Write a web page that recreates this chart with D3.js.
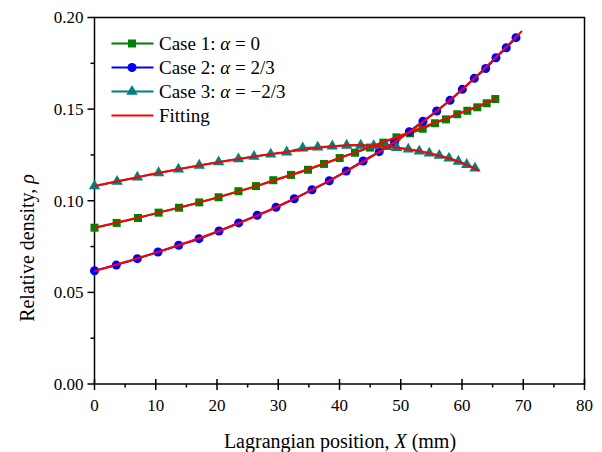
<!DOCTYPE html>
<html><head><meta charset="utf-8">
<script src="https://cdn.jsdelivr.net/npm/d3@7"></script>
<style>body{margin:0;background:#fff}svg{display:block}text{font-family:"Liberation Serif","Times New Roman",serif}</style>
</head><body><svg id="c" width="602" height="452"></svg>
<script>
// ---- data ----
const xTicks = [0,10,20,30,40,50,60,70,80];
const yTicks = [0.00,0.05,0.10,0.15,0.20];

const case1X = [0,3.62,7.10,10.47,13.80,17.10,20.26,23.5,26.37,29.19,32.08,34.86,37.47,40.03,42.53,44.98,47.15,49.3,51.51,53.58,55.59,57.39,59.23,60.87,62.50,64.03,65.44];
const case1Y = [0.0853,0.0879,0.0906,0.0935,0.0962,0.0991,0.1019,0.1052,0.1080,0.1112,0.1141,0.1169,0.1201,0.1233,0.1262,0.1290,0.1317,0.1346,0.1368,0.1393,0.1423,0.1444,0.1472,0.1491,0.1510,0.1532,0.1555];

const case2X = [0,3.56,6.99,10.37,13.75,17.06,20.33,23.54,26.57,29.63,32.62,35.51,38.33,41.11,43.87,46.48,48.98,51.40,53.63,55.87,58.04,60.05,62.01,63.87,65.55,67.23,68.82];
const case2Y = [0.0618,0.0649,0.0684,0.0720,0.0757,0.0793,0.0835,0.0879,0.0921,0.0964,0.1011,0.1060,0.1109,0.1162,0.1217,0.1268,0.1319,0.1377,0.1434,0.1490,0.1548,0.1608,0.1668,0.1722,0.1780,0.1835,0.1890];

const case3X = [0,3.69,7.0,10.47,13.7,17.1,20.27,23.5,26.04,28.77,31.38,33.99,36.44,38.82,41.17,43.46,45.58,47.71,49.34,51.23,53.03,54.66,56.29,57.88,59.40,60.77,62.12];
const case3Y = [0.1080,0.1105,0.1128,0.1152,0.1172,0.1193,0.1211,0.1228,0.1241,0.1254,0.1265,0.1287,0.1292,0.1298,0.1302,0.1302,0.1300,0.1295,0.1290,0.1281,0.1270,0.1259,0.1247,0.1232,0.1215,0.1197,0.1177];

const fit1X = [0,10,20,30,40,50,60,65.8];
const fit1Y = [0.0852,0.0931,0.1017,0.1117,0.1233,0.1356,0.1482,0.1560];
const fit2X = [0,10,20,30,40,50,60,69.8];
const fit2Y = [0.0616,0.0717,0.0831,0.0970,0.1140,0.1343,0.1606,0.1926];
const fit3X = [0,10,20,30,40,45,50,55,60,62.8];
const fit3Y = [0.1080,0.1149,0.1209,0.1260,0.1300,0.1301,0.1287,0.1257,0.1207,0.1164];

const seriesNames = ["Case 1: ", "Case 2: ", "Case 3: "];
const alphaVals = ["0","2/3","\u22122/3"];
const colors = ["#008000","#0000ff","#008080"];
const fitColor = "#ff0000";

// ---- layout ----
const L=94.5, R=584.5, T=17.5, B=384;
const svg = d3.select("#c");
const x = d3.scaleLinear().domain([0,80]).range([L,R]);
const y = d3.scaleLinear().domain([0,0.20]).range([B,T]);

const series = [
  {xs:case1X, ys:case1Y, fx:fit1X, fy:fit1Y, sym:d3.symbolSquare, size:64},
  {xs:case2X, ys:case2Y, fx:fit2X, fy:fit2Y, sym:d3.symbolCircle, size:64},
  {xs:case3X, ys:case3Y, fx:fit3X, fy:fit3Y, sym:d3.symbolTriangle, size:56},
];

// frame
svg.append("rect").attr("x",L).attr("y",T).attr("width",R-L).attr("height",B-T)
  .attr("fill","none").attr("stroke","#000").attr("stroke-width",1.5);

// x axis ticks
const gx = svg.append("g");
xTicks.forEach(t=>{
  gx.append("line").attr("x1",x(t)).attr("x2",x(t)).attr("y1",B-5).attr("y2",B+6).attr("stroke","#000").attr("stroke-width",1.5);
  gx.append("text").attr("x",x(t)).attr("y",411).attr("text-anchor","middle").attr("font-size",17).text(t);
});
d3.range(5,80,10).forEach(t=>{
  gx.append("line").attr("x1",x(t)).attr("x2",x(t)).attr("y1",B).attr("y2",B+3.5).attr("stroke","#000").attr("stroke-width",1.5);
});
// y axis ticks
const gy = svg.append("g");
yTicks.forEach(t=>{
  gy.append("line").attr("x1",L-7).attr("x2",L).attr("y1",y(t)).attr("y2",y(t)).attr("stroke","#000").attr("stroke-width",1.5);
  gy.append("text").attr("x",L-11).attr("y",y(t)).attr("dy","0.35em").attr("text-anchor","end").attr("font-size",17).text(d3.format(".2f")(t));
});
[0.025,0.075,0.125,0.175].forEach(t=>{
  gy.append("line").attr("x1",L-4).attr("x2",L).attr("y1",y(t)).attr("y2",y(t)).attr("stroke","#000").attr("stroke-width",1.5);
});

// axis titles
const xt = svg.append("text").attr("x",340).attr("y",448).attr("text-anchor","middle").attr("font-size",20);
xt.append("tspan").text("Lagrangian position, ");
xt.append("tspan").attr("font-style","italic").text("X");
xt.append("tspan").text(" (mm)");
const yt = svg.append("text").attr("transform","translate(34,248) rotate(-90)").attr("text-anchor","middle").attr("font-size",20);
yt.append("tspan").text("Relative density, ");
yt.append("tspan").attr("font-style","italic").text("\u03c1");

// data
const plot = svg.append("g");
series.forEach((s,i)=>{
  const pts = s.xs.map((v,k)=>[v,s.ys[k]]);
  plot.append("path").datum(pts).attr("fill","none").attr("stroke",colors[i]).attr("stroke-width",2)
    .attr("d", d3.line().x(d=>x(d[0])).y(d=>y(d[1])).curve(d3.curveMonotoneX));
  plot.selectAll(null).data(pts).enter().append("path")
    .attr("transform",d=>`translate(${x(d[0])},${y(d[1])})`)
    .attr("d", d3.symbol().type(s.sym).size(s.size)).attr("fill",colors[i]);
});
series.forEach((s,i)=>{
  const pts = s.fx.map((v,k)=>[v,s.fy[k]]);
  plot.append("path").datum(pts).attr("fill","none").attr("stroke",fitColor).attr("stroke-width",2)
    .attr("d", d3.line().x(d=>x(d[0])).y(d=>y(d[1])).curve(d3.curveNatural));
});

// legend
const lg = svg.append("g");
const rowsY = [43.5,67.5,91.5,115.5];
series.forEach((s,i)=>{
  lg.append("line").attr("x1",111.5).attr("x2",153.5).attr("y1",rowsY[i]).attr("y2",rowsY[i]).attr("stroke",colors[i]).attr("stroke-width",2);
  lg.append("path").attr("transform",`translate(132,${rowsY[i]})`).attr("d",d3.symbol().type(s.sym).size(s.size)).attr("fill",colors[i]);
  const t = lg.append("text").attr("x",159).attr("y",rowsY[i]).attr("dy","0.35em").attr("font-size",19);
  t.append("tspan").text(seriesNames[i]);
  t.append("tspan").attr("font-style","italic").text("\u03b1");
  t.append("tspan").text(" = "+alphaVals[i]);
});
lg.append("line").attr("x1",111.5).attr("x2",153.5).attr("y1",rowsY[3]).attr("y2",rowsY[3]).attr("stroke",fitColor).attr("stroke-width",2);
lg.append("text").attr("x",159).attr("y",rowsY[3]).attr("dy","0.35em").attr("font-size",19).text("Fitting");
</script></body></html>
